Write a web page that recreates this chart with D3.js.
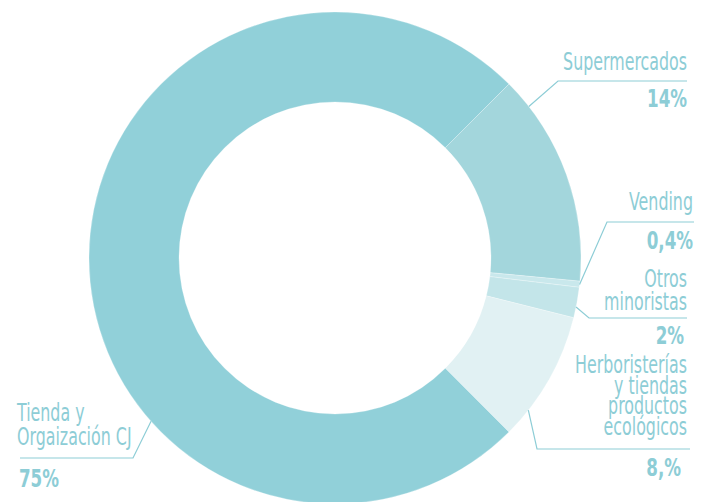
<!DOCTYPE html>
<html>
<head>
<meta charset="utf-8">
<script src="https://cdn.jsdelivr.net/npm/d3@7"></script>
<style>
  body { margin: 0; background: #fff; }
  svg { display: block; }
  .lbl { font-family: 'Liberation Sans Narrow', 'DejaVu Sans Condensed', 'Liberation Sans', sans-serif; fill: #8dcdd6; }
  .name { font-size: 24px; font-weight: 400; }
  .val { font-size: 25px; font-weight: 700; }
  .leader { fill: none; stroke: #8dcdd6; stroke-width: 1.2; }
</style>
</head>
<body>
<svg id="chart" width="710" height="502"></svg>
<script>
// data
const categories = ['Supermercados', 'Vending', 'Otros minoristas', 'Herboristerías y tiendas productos ecológicos', 'Tienda y Orgaización CJ'];
const shares = [14, 0.4, 2, 8.6, 75];
const valueLabels = ['14%', '0,4%', '2%', '8,%', '75%'];
const labelLines = [
  ['Supermercados'],
  ['Vending'],
  ['Otros', 'minoristas'],
  ['Herboristerías', 'y tiendas', 'productos', 'ecológicos'],
  ['Tienda y', 'Orgaización CJ'],
];
const colors = ['#a3d6dc', '#c9e8ec', '#c3e5e9', '#e1f1f3', '#91d0d9'];

// label placement (layout only)
const labelLayout = [
  { side: 'right', x: 687, y0: 70, step: 23, ruleY: 81, rule: [558, 687], valX: 687, valY: 107, angle: 52 },
  { side: 'right', x: 693, y0: 210, step: 23, ruleY: 222, rule: [607, 694], valX: 693, valY: 249, angle: 96.2 },
  { side: 'right', x: 687, y0: 287, step: 23, ruleY: 318, rule: [589, 687], valX: 684, valY: 344, angle: 101.5 },
  { side: 'right', x: 687, y0: 373, step: 20.7, ruleY: 449, rule: [537, 690], valX: 681, valY: 476, angle: 128.2 },
  { side: 'left', x: 17, y0: 421, step: 24, ruleY: 458, rule: [20, 133], valX: 19, valY: 487, angle: 228.4 },
];

const cx = 335;
const cy = 258;
const outerR = 246;
const innerR = 156;

const svg = d3.select('#chart');

const pie = d3.pie()
  .sort(null)
  .value((d) => d)
  .startAngle(Math.PI / 4)
  .endAngle(Math.PI / 4 + 2 * Math.PI);

const arc = d3.arc().innerRadius(innerR).outerRadius(outerR);

const donut = svg.append('g').attr('transform', `translate(${cx}, ${cy})`);

donut.selectAll('path')
  .data(pie(shares))
  .join('path')
  .attr('d', arc)
  .attr('fill', (d, i) => colors[i])
  .attr('stroke', '#ffffff')
  .attr('stroke-opacity', 0.45)
  .attr('stroke-width', 0.6);

// leader lines
const leaderStart = (deg) => {
  const a = (deg * Math.PI) / 180;
  return [cx + outerR * Math.sin(a), cy - outerR * Math.cos(a)];
};

svg.selectAll('.leader')
  .data(labelLayout)
  .join('polyline')
  .attr('class', 'leader')
  .attr('points', (d) => {
    const s = leaderStart(d.angle);
    const pts = d.side === 'right'
      ? [s, [d.rule[0], d.ruleY], [d.rule[1], d.ruleY]]
      : [s, [d.rule[1], d.ruleY], [d.rule[0], d.ruleY]];
    return pts.map((p) => p.join(',')).join(' ');
  });

// labels
const labels = svg.selectAll('.label')
  .data(labelLayout)
  .join('g')
  .attr('class', 'label');

labels.each(function (d, i) {
  const g = d3.select(this);
  const anchor = d.side === 'right' ? 'end' : 'start';
  labelLines[i].forEach((line, j) => {
    g.append('text')
      .attr('class', 'lbl name')
      .attr('text-anchor', anchor)
      .attr('data-x', d.x)
      .attr('data-y', d.y0 + j * d.step)
      .text(line);
  });
  g.append('text')
    .attr('class', 'lbl val')
    .attr('text-anchor', anchor)
    .attr('data-x', d.valX)
    .attr('data-y', d.valY)
    .text(valueLabels[i]);
});

// the original type is condensed: squeeze to the widths seen in the picture
const nameRef = svg.selectAll('.name').filter(function () { return this.textContent === 'Supermercados'; }).node();
const valRef = svg.selectAll('.val').filter(function () { return this.textContent === '14%'; }).node();
const nameScale = 124 / nameRef.getComputedTextLength();
const valScale = 40 / valRef.getComputedTextLength();

svg.selectAll('.lbl').attr('transform', function () {
  const el = d3.select(this);
  const sx = el.classed('val') ? valScale : nameScale;
  return `translate(${el.attr('data-x')}, ${el.attr('data-y')}) scale(${sx}, 1)`;
});
</script>
</body>
</html>
